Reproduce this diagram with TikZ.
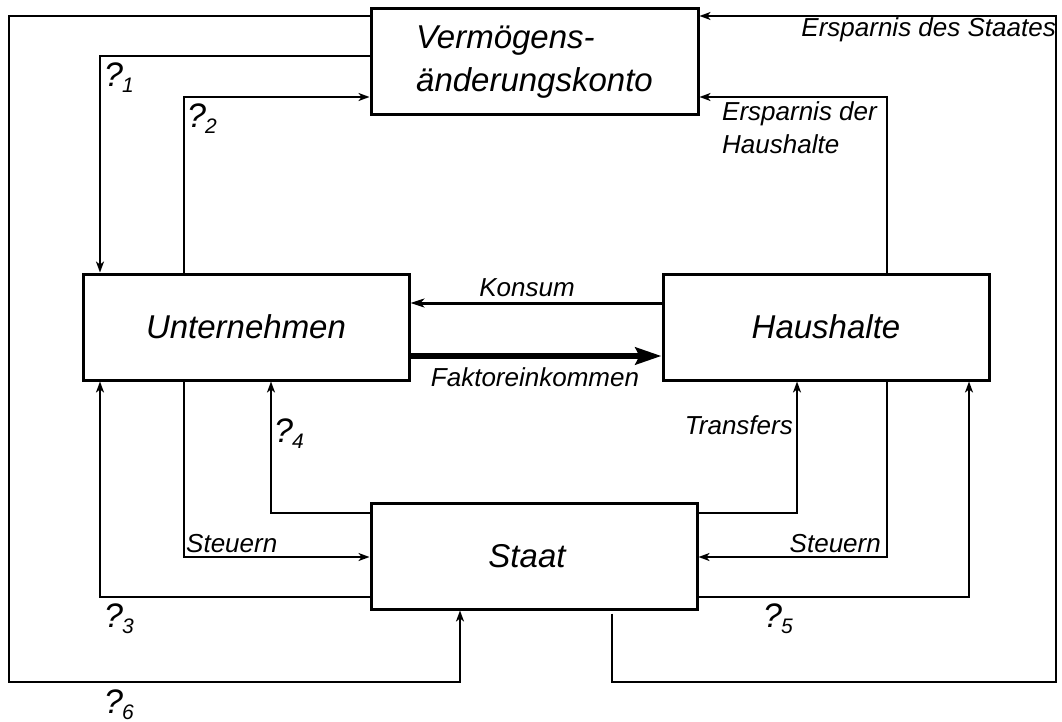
\documentclass[tikz,border=0pt]{standalone}
\usepackage{fontspec}
\setmainfont{Liberation Sans}
\usetikzlibrary{arrows.meta}
\tikzset{
  box/.style={draw, line width=3pt, minimum width=326pt, minimum height=106pt, inner sep=0pt,
    font=\fontsize{33}{43}\selectfont\itshape},
  conn/.style={line width=1.8pt},
  arr/.style={conn, -{Stealth[length=11pt,width=8pt,inset=3pt]}},
  lbl/.style={font=\fontsize{26}{32}\selectfont\itshape, inner sep=0pt},
  qlbl/.style={font=\fontsize{34}{36}\selectfont\itshape, inner sep=0pt, anchor=base west},
}
\newcommand{\qsub}[1]{?\kern-1pt\raisebox{-6pt}{\fontsize{21}{22}\selectfont #1}}
\begin{document}
\begin{tikzpicture}[x=1pt, y=-1pt]
\useasboundingbox (0,0) rectangle (1062,722);
% boxes
\node[box, align=left, minimum width=327pt] (V) at (534.5,62) {\raisebox{-3pt}{Vermögens-}\\\raisebox{-3pt}{änderungskonto}};
\node[box] (U) at (246,327) {Unternehmen};
\node[box] (H) at (826,327) {Haushalte};
\node[box] (S) at (534,556) {\hspace*{-14pt}Staat};
% connectors
\draw[arr] (V.west |- 0,16) -| (9,682) -| (S.south -| 460,0);
\draw[arr] (V.west |- 0,56) -| (U.north -| 100,0);
\draw[arr] (U.north -| 184,0) |- (V.west |- 0,97);
\draw[arr] (S.south -| 612,0) ++(0,3) |- (1056,682) |- (V.east |- 0,16);
\draw[arr] (H.north -| 887,0) |- (V.east |- 0,97);
\draw[conn, line width=3pt, -{Stealth[length=14pt,width=9pt,inset=4pt]}] (H.west |- 0,303) -- (U.east |- 0,303);
\draw[line width=6.5pt, -{Stealth[length=26pt,width=17pt,inset=4pt]}] (U.east |- 0,356) -- (H.west |- 0,356);
\draw[arr] (U.south -| 184,0) |- (S.west |- 0,557);
\draw[arr] (S.west |- 0,513) -| (U.south -| 271,0);
\draw[arr] (S.west |- 0,597) -| (U.south -| 100,0);
\draw[arr] (S.east |- 0,513) -| (H.south -| 797,0);
\draw[arr] (H.south -| 887,0) |- (S.east |- 0,557);
\draw[arr] (S.east |- 0,597) -| (H.south -| 969,0);
% labels
\node[lbl, anchor=base east] (l1) at (1056,37) {Ersparnis des Staates};
\node[lbl, anchor=base west] (l2) at (722,121) {Ersparnis der};
\node[lbl, anchor=base west] (l3) at (722,154) {Haushalte};
\node[lbl, anchor=base] (l4) at (527,296) {Konsum};
\node[lbl, anchor=base] (l5) at (535,386) {Faktoreinkommen};
\node[lbl, anchor=base east] (l6) at (793,434) {Transfers};
\node[lbl, anchor=base west] (l7) at (186,552) {Steuern};
\node[lbl, anchor=base east] (l8) at (881,552) {Steuern};
\node[qlbl] (q1) at (104,87) {\qsub{1}};
\node[qlbl] (q2) at (187,128) {\qsub{2}};
\node[qlbl] (q3) at (104,627) {\qsub{3}};
\node[qlbl] (q4) at (274,442) {\qsub{4}};
\node[qlbl] (q5) at (763,627) {\qsub{5}};
\node[qlbl] (q6) at (104,713) {\qsub{6}};
\end{tikzpicture}
\end{document}
